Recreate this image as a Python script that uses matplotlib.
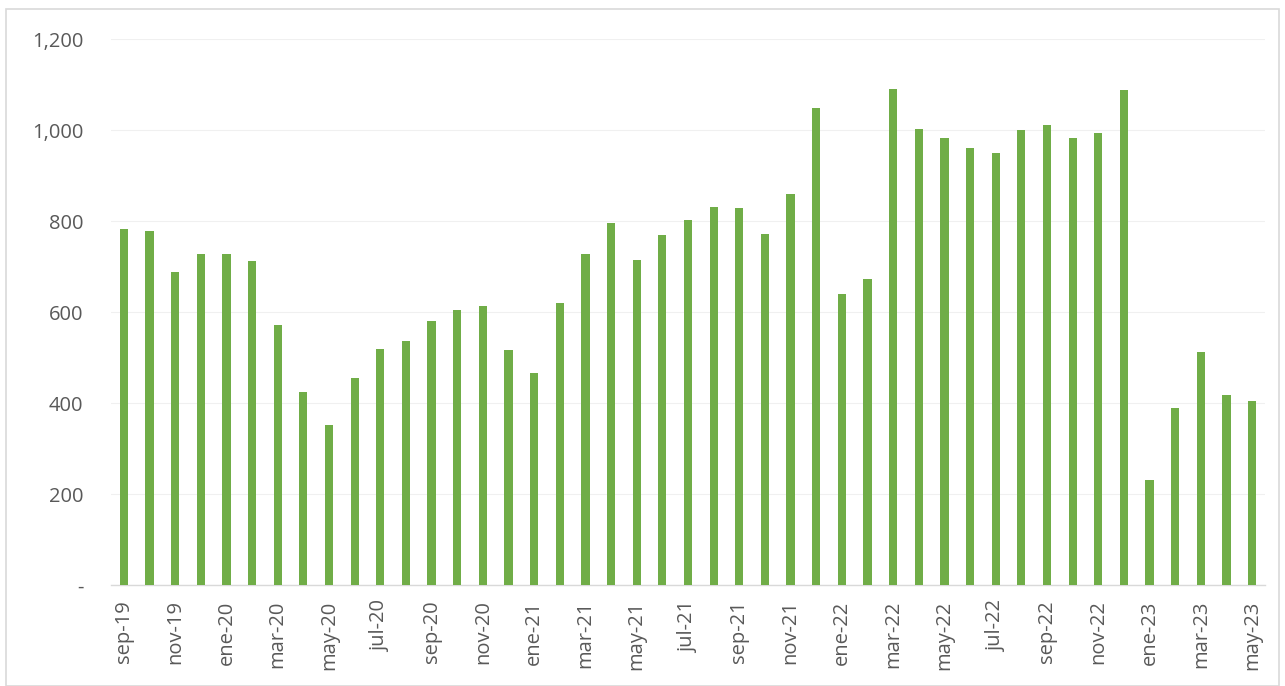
import matplotlib
matplotlib.use("Agg")
import matplotlib.pyplot as plt
from matplotlib.patches import Rectangle
from matplotlib.ticker import FuncFormatter

plt.rcParams['font.family'] = ['Open Sans', 'DejaVu Sans']

# monthly values, sep-19 .. may-23
months = ['sep-19', 'oct-19', 'nov-19', 'dic-19',
          'ene-20', 'feb-20', 'mar-20', 'abr-20', 'may-20', 'jun-20',
          'jul-20', 'ago-20', 'sep-20', 'oct-20', 'nov-20', 'dic-20',
          'ene-21', 'feb-21', 'mar-21', 'abr-21', 'may-21', 'jun-21',
          'jul-21', 'ago-21', 'sep-21', 'oct-21', 'nov-21', 'dic-21',
          'ene-22', 'feb-22', 'mar-22', 'abr-22', 'may-22', 'jun-22',
          'jul-22', 'ago-22', 'sep-22', 'oct-22', 'nov-22', 'dic-22',
          'ene-23', 'feb-23', 'mar-23', 'abr-23', 'may-23']
values = [782, 778, 688, 727,
          727, 712, 571, 424, 352, 455,
          519, 536, 580, 604, 613, 516,
          466, 620, 727, 796, 714, 769,
          802, 831, 829, 771, 859, 1048,
          640, 673, 1090, 1002, 982, 960,
          949, 1000, 1011, 982, 993, 1088,
          231, 389, 512, 418, 404]

fig = plt.figure(figsize=(12.85, 6.86), dpi=100)
ax = fig.add_axes([0.0864, 0.147, 0.898, 0.796])

x = list(range(len(values)))
ax.bar(x, values, width=0.32, color='#70AD47', zorder=3)

ax.set_xlim(-0.5, len(values) - 0.5)
ax.set_ylim(0, 1200)
ax.set_yticks(range(0, 1201, 200))
ax.yaxis.set_major_formatter(FuncFormatter(lambda v, p: '-' if v == 0 else f'{int(v):,}'))
ax.set_xticks(x[::2])
ax.set_xticklabels(months[::2], rotation=90)

ax.grid(axis='y', color='#F0F0F0', linewidth=0.8, zorder=0)
for s in ['top', 'right', 'left']:
    ax.spines[s].set_visible(False)
ax.spines['bottom'].set_color('#D9D9D9')
ax.spines['bottom'].set_linewidth(1.0)
ax.tick_params(axis='both', length=0, labelsize=14.5, labelcolor='#595959')
ax.tick_params(axis='y', pad=20)
ax.tick_params(axis='x', pad=11)

# outer chart frame
fig.patches.append(Rectangle((6 / 1285, 0), 1 - 12 / 1285, 1 - 9 / 686,
                             transform=fig.transFigure, fill=False,
                             edgecolor='#D9D9D9', linewidth=1.2))

fig.savefig('out.png', dpi=100)
